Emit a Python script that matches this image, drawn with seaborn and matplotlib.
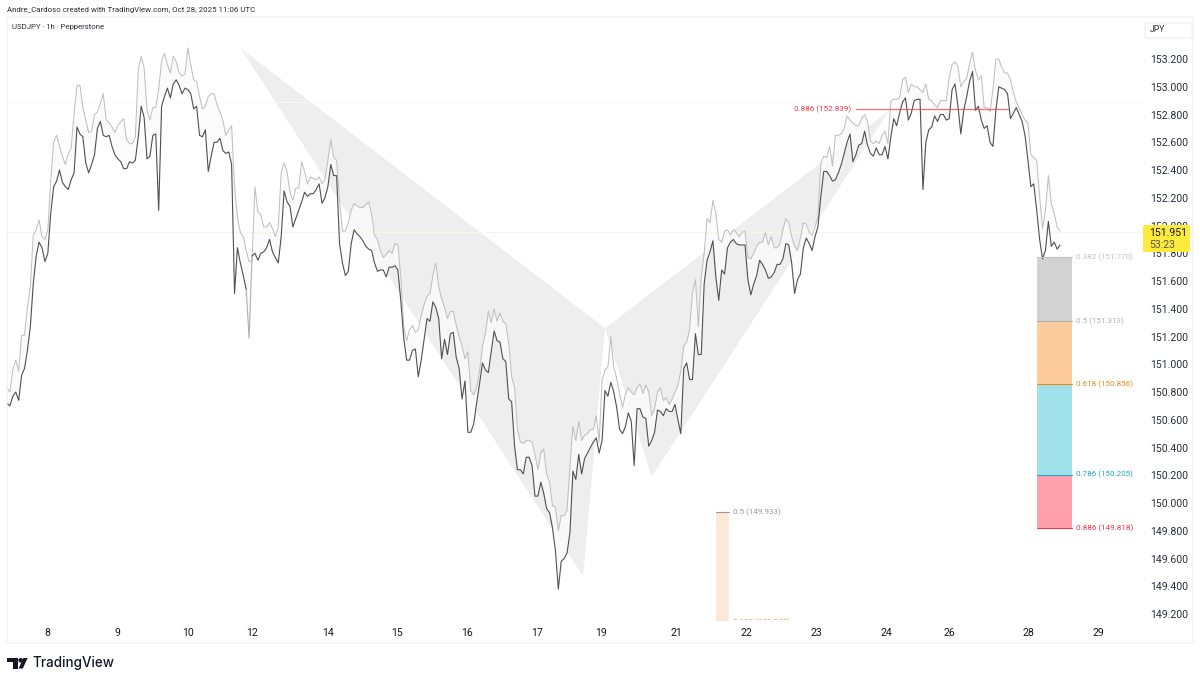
import numpy as np
import pandas as pd
import matplotlib
matplotlib.use("Agg")
import matplotlib.pyplot as plt
import seaborn as sns
from matplotlib.patches import FancyBboxPatch, Polygon

# valores, um por barra de 1h
close_line = [
    150.72,150.70,150.77,150.80,150.74,150.92,150.97,151.10,151.27,151.58,
    151.78,151.88,151.84,151.74,151.80,152.09,152.28,152.32,152.40,152.31,
    152.28,152.26,152.33,152.38,152.71,152.66,152.64,152.45,152.38,152.44,
    152.51,152.70,152.75,152.65,152.64,152.65,152.57,152.51,152.48,152.46,
    152.41,152.41,152.46,152.45,152.47,152.64,152.86,152.78,152.48,152.50,
    152.65,152.66,152.11,152.86,152.93,152.99,152.92,153.02,153.05,153.01,
    152.95,152.99,152.98,152.95,152.84,152.86,152.65,152.64,152.69,152.39,
    152.50,152.60,152.60,152.63,152.54,152.52,152.53,152.44,151.51,151.84,
    151.73,151.64,151.54,151.19,151.78,151.80,151.75,151.80,151.81,151.84,
    151.90,151.81,151.77,151.73,151.92,152.25,152.17,152.14,151.99,152.05,
    152.11,152.17,152.24,152.21,152.23,152.23,152.26,152.30,152.16,152.20,
    152.28,152.44,152.36,152.36,151.87,151.73,151.64,151.67,151.87,151.97,
    151.94,151.92,151.89,151.85,151.83,151.82,151.73,151.67,151.68,151.68,
    151.63,151.70,151.70,151.71,151.68,151.46,151.19,151.03,151.03,151.10,
    151.11,150.91,151.03,151.18,151.33,151.31,151.45,151.41,151.33,151.04,
    151.18,151.07,151.22,151.23,151.05,150.97,150.75,150.88,150.51,150.51,
    150.57,150.72,150.86,151.01,150.96,150.94,151.09,151.24,151.17,151.16,
    151.04,151.02,150.75,150.73,150.41,150.24,150.24,150.21,150.33,150.33,
    150.27,150.05,150.05,150.15,150.07,149.96,149.93,149.82,149.66,149.38,
    149.58,149.60,149.64,149.79,150.23,150.17,150.35,150.21,150.32,150.36,
    150.40,150.44,150.47,150.36,150.45,150.81,150.77,150.87,150.80,150.69,
    150.53,150.50,150.55,150.65,150.59,150.27,150.68,150.68,150.62,150.61,
    150.41,150.45,150.51,150.67,150.66,150.63,150.68,150.66,150.66,150.71,
    150.60,150.50,150.97,151.01,150.89,150.89,151.22,151.07,151.07,151.58,
    151.75,151.81,151.89,151.63,151.46,151.68,151.65,151.84,151.88,151.90,
    151.87,151.86,151.86,151.86,151.61,151.50,151.58,151.64,151.75,151.72,
    151.68,151.62,151.63,151.66,151.72,151.72,151.76,151.87,151.86,151.73,
    151.51,151.61,151.65,151.84,151.91,151.87,151.82,151.92,151.99,152.21,
    152.39,152.39,152.36,152.32,152.33,152.38,152.44,152.52,152.60,152.66,
    152.46,152.51,152.58,152.59,152.68,152.58,152.52,152.50,152.56,152.51,
    152.51,152.57,152.48,152.64,152.77,152.72,152.81,152.89,152.92,152.76,
    152.81,152.90,152.91,152.91,152.26,152.60,152.69,152.71,152.79,152.75,
    152.80,152.80,152.76,152.77,152.98,153.02,152.86,152.66,152.83,152.93,
    153.04,153.11,152.83,152.86,152.76,152.70,152.72,152.60,152.57,152.83,
    153.00,152.99,152.98,152.95,152.77,152.81,152.85,152.80,152.75,152.65,
    152.47,152.28,152.30,152.11,151.90,151.76,151.82,152.03,151.85,151.88,
    151.83,151.86,
]
upper_line = [
    150.83,150.80,150.96,151.03,150.95,151.21,151.21,151.41,151.56,151.93,
    151.97,152.04,151.92,151.90,151.97,152.33,152.60,152.65,152.57,152.50,
    152.44,152.52,152.56,152.81,153.01,153.01,152.85,152.76,152.67,152.68,
    152.80,152.82,152.88,152.95,152.76,152.74,152.71,152.67,152.72,152.75,
    152.77,152.62,152.59,152.59,152.64,153.12,153.22,153.14,152.83,152.76,
    152.85,152.85,152.98,153.19,153.24,153.16,153.10,153.22,153.18,153.10,
    153.08,153.09,153.28,153.16,153.05,153.04,152.93,152.84,152.86,152.93,
    152.95,152.95,152.87,152.82,152.76,152.65,152.69,152.72,152.28,152.06,
    151.95,151.92,151.82,151.74,151.75,152.28,152.10,152.08,151.99,151.99,
    152.02,151.98,151.92,151.99,152.38,152.45,152.39,152.24,152.18,152.27,
    152.27,152.46,152.39,152.30,152.35,152.34,152.33,152.35,152.30,152.33,
    152.47,152.62,152.49,152.47,152.18,151.96,151.96,152.02,152.11,152.16,
    152.14,152.13,152.13,152.15,152.17,152.08,151.93,151.90,151.82,151.77,
    151.79,151.82,151.80,151.87,151.86,151.63,151.27,151.17,151.25,151.28,
    151.23,151.25,151.35,151.43,151.49,151.51,151.64,151.73,151.56,151.47,
    151.41,151.33,151.38,151.38,151.28,151.20,151.13,151.04,151.09,150.81,
    150.78,150.83,150.95,151.13,151.22,151.38,151.30,151.40,151.31,151.37,
    151.31,151.29,151.15,150.91,150.83,150.53,150.44,150.43,150.45,150.45,
    150.44,150.35,150.24,150.36,150.39,150.21,150.15,149.98,149.97,149.80,
    149.91,149.91,149.95,150.27,150.55,150.45,150.59,150.45,150.49,150.50,
    150.53,150.53,150.63,150.44,150.89,150.96,150.98,151.20,150.98,150.90,
    150.79,150.69,150.78,150.83,150.80,150.78,150.83,150.86,150.79,150.85,
    150.80,150.63,150.68,150.80,150.83,150.74,150.76,150.71,150.75,150.80,
    150.85,150.95,151.13,151.16,151.25,151.52,151.61,151.27,151.63,151.80,
    152.05,152.02,152.18,152.09,151.90,151.88,151.96,151.97,151.93,151.97,
    151.95,151.92,151.95,151.96,151.77,151.76,151.80,151.85,151.88,151.88,
    151.95,151.86,151.92,151.84,151.84,151.87,151.97,152.05,152.02,151.92,
    151.85,151.82,151.91,152.02,152.01,151.95,151.93,151.99,152.06,152.45,
    152.50,152.49,152.57,152.43,152.65,152.65,152.66,152.70,152.79,152.76,
    152.74,152.72,152.72,152.77,152.80,152.75,152.61,152.59,152.61,152.59,
    152.65,152.68,152.59,152.90,152.91,152.91,152.92,153.05,153.07,152.96,
    153.02,153.00,153.00,152.98,152.96,153.02,152.91,152.90,152.87,152.85,
    152.90,152.90,152.90,153.07,153.16,153.18,153.15,153.00,153.04,153.06,
    153.17,153.25,153.12,153.05,153.08,152.85,152.85,152.82,152.98,153.20,
    153.20,153.14,153.10,153.10,153.05,152.96,152.89,152.85,152.80,152.76,
    152.74,152.51,152.49,152.47,152.21,151.98,152.11,152.36,152.16,152.09,
    151.99,151.96,
]

# padrao harmonico (barra, preco)
leg_one_bars = [80, 197.5, 205]
leg_one_prices = [153.28, 149.47, 151.26]
leg_two_bars = [205, 221, 302.5]
leg_two_prices = [151.26, 150.19, 152.83]

# niveis de fibonacci
fib_ratios = ["0.382", "0.5", "0.618", "0.786", "0.886"]
fib_prices = [151.770, 151.313, 150.856, 150.205, 149.818]
fib_fills = ["#d2d2d2", "#fdcc9c", "#a1e1ec", "#fda0ac"]
fib_text = ["#c4c4c4", "#b0b0b0", "#e8891c", "#22a7c2", "#f23645"]
fib_bars = [353.1, 365]

small_ratios = ["0.5", "0.618"]
small_prices = [149.933, 149.143]
small_bars = [243.2, 247.5]

last_price = 151.951
countdown = "53:23"
red_level = 152.839
red_bars = [291, 343]

price_ticks = [153.2,153.0,152.8,152.6,152.4,152.2,152.0,151.8,151.6,151.4,151.2,151.0,
               150.8,150.6,150.4,150.2,150.0,149.8,149.6,149.4,149.2]
day_ticks = [13.7,37.7,61.9,84,110,133.7,157.7,181.7,203.6,229.4,253.4,277.4,301.4,323,350,374]
day_labels = ["8","9","10","12","14","15","16","17","19","21","22","23","24","26","28","29"]


def fx(px):
    return px / 1200


def fy(py):
    return 1 - py / 683


sns.set_theme(style="white")
plt.rcParams["font.family"] = ["Roboto", "DejaVu Sans"]

fig = plt.figure(figsize=(12, 6.83), dpi=100, facecolor="white")
ax = fig.add_axes([fx(7), fy(620), (1143 - 7) / 1200, (620 - 17) / 683])
ax.patch.set_alpha(0)

# moldura do painel
fig.add_artist(FancyBboxPatch((fx(7), fy(643)), (1193 - 7) / 1200, (643 - 17) / 683,
                              boxstyle="round,pad=0,rounding_size=0.003",
                              transform=fig.transFigure, fc="none", ec="#f0f0f0", lw=0.8))

df = pd.DataFrame({"bar": np.arange(len(close_line)), "close": close_line, "upper": upper_line})

# triangulos do padrao
ax.fill(leg_one_bars, leg_one_prices, color="#eeeeee", lw=0, zorder=1)
ax.fill(leg_two_bars, leg_two_prices, color="#eeeeee", lw=0, zorder=1)

ax.fill_between(df["bar"], df["close"], df["upper"], color="#fbfbfb", alpha=0.8, lw=0, zorder=2)

ax.axhline(152.89, color="#faf9f2", lw=0.6, zorder=1)
ax.axhline(last_price, color="#fbf6dc", lw=0.8, zorder=2)

sns.lineplot(data=df, x="bar", y="upper", ax=ax, color="#c0c0c0", lw=0.75, zorder=3, errorbar=None)
# o spike da barra 83 aparece cinza na imagem
sns.lineplot(data=df[df["bar"] <= 82], x="bar", y="close", ax=ax, color="#505050", lw=0.8, zorder=4, errorbar=None)
sns.lineplot(data=df[df["bar"] >= 84], x="bar", y="close", ax=ax, color="#505050", lw=0.8, zorder=4, errorbar=None)
sns.lineplot(data=df[(df["bar"] >= 82) & (df["bar"] <= 84)], x="bar", y="close", ax=ax,
             color="#b0b0b0", lw=0.8, zorder=3, errorbar=None)

# faixas de fibonacci
for i, col in enumerate(fib_fills):
    ax.fill_between(fib_bars, fib_prices[i + 1], fib_prices[i], color=col, lw=0, zorder=2)
for ratio, price, col in zip(fib_ratios, fib_prices, fib_text):
    ax.plot(fib_bars, [price, price], color=col, lw=0.8, zorder=5)
    ax.text(366.6, price, f"{ratio} ({price:.3f})", color=col, fontsize=5.8, va="center", ha="left", zorder=6)

ax.fill_between(small_bars, small_prices[1], small_prices[0], color="#fde9da", lw=0, zorder=2)
ax.plot(small_bars, [small_prices[0]] * 2, color="#9a9a9a", lw=0.8, zorder=5)
ax.text(248.9, small_prices[0], f"{small_ratios[0]} ({small_prices[0]:.3f})", color="#9a9a9a",
        fontsize=5.8, va="center", ha="left", zorder=6)
ax.text(248.9, small_prices[1], f"{small_ratios[1]} ({small_prices[1]:.3f})", color="#e8891c",
        fontsize=5.8, va="center", ha="left", zorder=6, clip_on=True)

ax.plot(red_bars, [red_level, red_level], color="#f0485a", lw=0.9, alpha=0.8, zorder=5)
ax.text(289.4, red_level, f"0.886 ({red_level:.3f})", color="#f23645", fontsize=5.8,
        va="center", ha="right", zorder=6)

ax.set_xlim(0, 1136 / 2.917)
ax.set_ylim(149.157, 153.503)
ax.set_xticks(day_ticks, day_labels)
ax.set_yticks(price_ticks, [f"{p:.3f}" for p in price_ticks])
ax.yaxis.tick_right()
ax.tick_params(axis="y", length=0, pad=5.5, labelsize=7.6, labelcolor="#2a2e39")
ax.tick_params(axis="x", length=0, pad=6, labelsize=7.6, labelcolor="#131722")
ax.set_xlabel("")
ax.set_ylabel("")
ax.grid(False)
sns.despine(ax=ax, left=True, bottom=True, right=True, top=True)

# caixa do ultimo preco
fig.add_artist(FancyBboxPatch((fx(1143), fy(252)), 47 / 1200, 27 / 683,
                              boxstyle="round,pad=0,rounding_size=0.002",
                              transform=fig.transFigure, fc="#ffeb3b", ec="none", zorder=10))
fig.text(fx(1149), fy(232.5), f"{last_price:.3f}", fontsize=7.6, color="#131722",
         ha="left", va="center", zorder=11)
fig.text(fx(1149), fy(245), countdown, fontsize=7.6, color="#555", ha="left", va="center", zorder=11)

# caixa JPY
fig.add_artist(FancyBboxPatch((fx(1145), fy(38)), 47 / 1200, 15 / 683,
                              boxstyle="round,pad=0,rounding_size=0.003",
                              transform=fig.transFigure, fc="white", ec="#eeeeee", lw=0.8))
fig.text(fx(1157.5), fy(29.5), "JPY", fontsize=6.2, color="#2a2e39", ha="center", va="center")

# textos de cabecalho
fig.text(fx(7), fy(10), "Andre_Cardoso created with TradingView.com, Oct 28, 2025 11:06 UTC",
         fontsize=5.7, color="#2a2e39", ha="left", va="center")
fig.text(fx(12), fy(27.5), "USDJPY · 1h · Pepperstone", fontsize=5.6, color="#2a2e39", ha="left", va="center")

# logo
fig.add_artist(Polygon([(fx(7.3), fy(658)), (fx(18), fy(658)), (fx(18), fy(668.5)), (fx(13), fy(668.5)),
                        (fx(13), fy(662)), (fx(7.3), fy(662))], closed=True,
                       transform=fig.transFigure, fc="#131722", ec="none"))
fig.add_artist(Polygon([(fx(23.4), fy(658)), (fx(27.6), fy(658)), (fx(22.8), fy(668.5)), (fx(18.6), fy(668.5))],
                       closed=True, transform=fig.transFigure, fc="#131722", ec="none"))
fig.text(fx(20.4), fy(660), "●", fontsize=4.5, color="#131722", ha="center", va="center", family="DejaVu Sans")
fig.text(fx(32), fy(663.5), "TradingView", fontsize=9.7, color="#131722", ha="left", va="center",
         family="Inter", fontweight="medium")

fig.savefig("out.png", dpi=100)
